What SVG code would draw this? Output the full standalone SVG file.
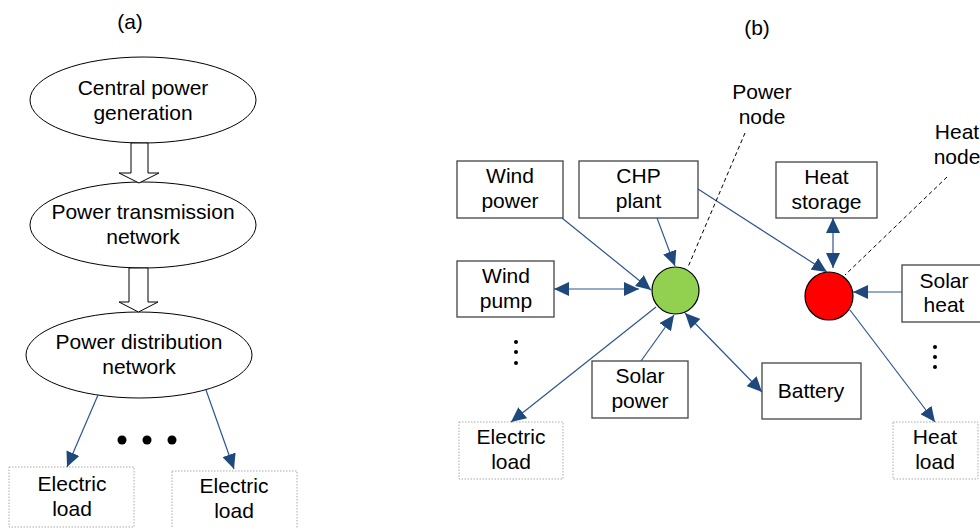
<svg xmlns="http://www.w3.org/2000/svg" width="980" height="528" viewBox="0 0 980 528">
<defs>
<style>
text{font-family:"Liberation Sans",Arial,sans-serif;font-size:21px;fill:#000;text-anchor:middle}
.ell{fill:#fff;stroke:#000;stroke-width:1}
.box{fill:#fff;stroke:#444;stroke-width:1.3}
.dbox{fill:#fff;stroke:#aaa;stroke-width:1;stroke-dasharray:1.5 1.5}
.hollow{fill:#fff;stroke:#000;stroke-width:1}
.con{stroke:#2d5592;stroke-width:1.2;fill:none}
.dash{stroke:#000;stroke-width:1;stroke-dasharray:4 3;fill:none}
.dot{fill:#000}
</style>
<marker id="ah" markerUnits="userSpaceOnUse" markerWidth="16" markerHeight="14" refX="15" refY="7" orient="auto-start-reverse">
<path d="M0,0 L15,7 L0,14 z" fill="#1f497d"/>
</marker>
</defs>

<text x="130" y="29">(a)</text>
<text x="757" y="35">(b)</text>

<g id="central-power-generation">
<ellipse class="ell" cx="143" cy="100" rx="113" ry="43"/>
<text x="143" y="95">Central power</text>
<text x="143" y="120">generation</text>
</g>
<g id="power-transmission-network">
<ellipse class="ell" cx="143" cy="225" rx="113" ry="43"/>
<text x="143" y="219">Power transmission</text>
<text x="143" y="244">network</text>
</g>
<g id="power-distribution-network">
<ellipse class="ell" cx="139" cy="355" rx="113" ry="43"/>
<text x="139" y="349">Power distribution</text>
<text x="139" y="374">network</text>
</g>
<g id="electric-load-a1">
<rect class="dbox" x="9" y="467" width="125" height="60"/>
<text x="72" y="491">Electric</text>
<text x="72" y="516">load</text>
</g>
<g id="electric-load-a2">
<rect class="dbox" x="172" y="471" width="125" height="62"/>
<text x="234" y="493">Electric</text>
<text x="234" y="518">load</text>
</g>

<g id="wind-power">
<rect class="box" x="457" y="161" width="106" height="57"/>
<text x="510" y="183">Wind</text>
<text x="510" y="208">power</text>
</g>
<g id="chp-plant">
<rect class="box" x="579" y="161" width="119" height="57"/>
<text x="638.5" y="183">CHP</text>
<text x="638.5" y="208">plant</text>
</g>
<g id="heat-storage">
<rect class="box" x="776" y="162" width="101" height="56"/>
<text x="826.5" y="184">Heat</text>
<text x="826.5" y="209">storage</text>
</g>
<g id="wind-pump">
<rect class="box" x="457" y="261" width="97" height="56"/>
<text x="506" y="283">Wind</text>
<text x="506" y="308">pump</text>
</g>
<g id="solar-heat">
<rect class="box" x="902" y="265" width="90" height="57"/>
<text x="944" y="288">Solar</text>
<text x="944" y="312">heat</text>
</g>
<g id="solar-power">
<rect class="box" x="592" y="361" width="96" height="57"/>
<text x="640" y="383">Solar</text>
<text x="640" y="408">power</text>
</g>
<g id="battery">
<rect class="box" x="762" y="363" width="99" height="56"/>
<text x="811" y="398">Battery</text>
</g>
<g id="electric-load-b">
<rect class="dbox" x="459" y="422" width="104" height="57"/>
<text x="511" y="444">Electric</text>
<text x="511" y="469">load</text>
</g>
<g id="heat-load">
<rect class="dbox" x="893" y="422" width="85" height="57"/>
<text x="935" y="444">Heat</text>
<text x="935" y="469">load</text>
</g>
<g id="power-node">
<circle cx="675.5" cy="290.5" r="23.5" fill="#92d050" stroke="#000" stroke-width="1.2"/>
</g>
<g id="heat-node">
<circle cx="829" cy="296" r="24" fill="#ff0000" stroke="#000" stroke-width="1.2"/>
</g>
<g id="power-node-label">
<text x="762" y="99">Power</text>
<text x="762" y="124">node</text>
</g>
<g id="heat-node-label">
<text x="957" y="139">Heat</text>
<text x="957" y="164">node</text>
</g>

<g id="connectors">
<polygon class="hollow" points="131,143 148,143 148,173 159,173 139,183 119,173 131,173"/>
<polygon class="hollow" points="129,268 148,268 148,302 158,302 138.5,312 119,302 129,302"/>
<line class="con" x1="98" y1="395" x2="67" y2="467" marker-end="url(#ah)"/>
<line class="con" x1="206" y1="390" x2="234" y2="469" marker-end="url(#ah)"/>
<line class="con" x1="562" y1="218" x2="651" y2="290" marker-end="url(#ah)"/>
<line class="con" x1="657" y1="218" x2="675" y2="266" marker-end="url(#ah)"/>
<line class="con" x1="554" y1="289" x2="639" y2="289" marker-start="url(#ah)" marker-end="url(#ah)"/>
<line class="con" x1="698" y1="189" x2="827" y2="272" marker-end="url(#ah)"/>
<line class="con" x1="656" y1="307" x2="511" y2="422" marker-end="url(#ah)"/>
<line class="con" x1="641" y1="361" x2="674" y2="315" marker-end="url(#ah)"/>
<line class="con" x1="685" y1="313" x2="762" y2="392" marker-start="url(#ah)" marker-end="url(#ah)"/>
<line class="con" x1="833" y1="218" x2="833" y2="268" marker-start="url(#ah)" marker-end="url(#ah)"/>
<line class="con" x1="902" y1="292" x2="853" y2="292" marker-end="url(#ah)"/>
<line class="con" x1="850" y1="310" x2="935" y2="422" marker-end="url(#ah)"/>
<line class="dash" x1="745" y1="133" x2="688" y2="267"/>
<line class="dash" x1="947" y1="177" x2="845" y2="275"/>
</g>

<g id="ellipsis-dots">
<circle class="dot" cx="122" cy="440" r="4.5"/>
<circle class="dot" cx="147" cy="440" r="4.5"/>
<circle class="dot" cx="172" cy="440" r="4.5"/>
<circle class="dot" cx="516" cy="342" r="2"/>
<circle class="dot" cx="516" cy="352" r="2"/>
<circle class="dot" cx="516" cy="363" r="2"/>
<circle class="dot" cx="935" cy="347" r="2"/>
<circle class="dot" cx="935" cy="357" r="2"/>
<circle class="dot" cx="935" cy="367" r="2"/>
</g>
</svg>
